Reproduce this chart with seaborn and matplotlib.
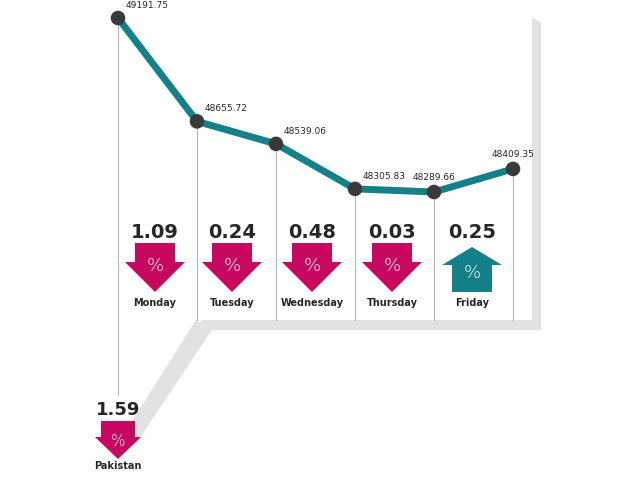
import numpy as np
import pandas as pd
import matplotlib.pyplot as plt
from matplotlib.patches import Polygon, Rectangle
import seaborn as sns

days = ['Monday', 'Tuesday', 'Wednesday', 'Thursday', 'Friday']
index_close = [49191.75, 48655.72, 48539.06, 48305.83, 48289.66, 48409.35]
change_pct = [1.09, 0.24, 0.48, 0.03, 0.25]
direction = ['down', 'down', 'down', 'down', 'up']
pak_change = 1.59

MAGENTA = '#c8075f'
TEAL = '#13808a'
DOT = '#3a3a3c'

sns.set_theme(style='white')
plt.rcParams['font.family'] = ['DejaVu Sans']

fig = plt.figure(figsize=(6.4, 4.8), dpi=100)

# pixel overlay for the panel, shadows and arrows
bg = fig.add_axes([0, 0, 1, 1])
bg.set_xlim(0, 640)
bg.set_ylim(480, 0)
bg.axis('off')

shadow = '#e2e2e2'
bg.add_patch(Polygon([(532, 18), (541, 22), (541, 330), (205, 330), (200, 322)],
                     closed=True, fc=shadow, ec='none', zorder=1))
bg.add_patch(Polygon([(196, 320), (212, 330), (135, 445), (120, 440)],
                     closed=True, fc=shadow, ec='none', zorder=1))
bg.add_patch(Rectangle((195, 14), 337, 306, fc='white', ec='none', zorder=2))

xs_px = [118, 193, 273, 353, 433, 513]
bottoms = [395, 320, 320, 320, 320, 320]

def down_arrow(cx, top, w=40, hw=60, shaft=19, head=30, color=MAGENTA, fs=13):
    pts = [(cx - w / 2, top), (cx + w / 2, top), (cx + w / 2, top + shaft),
           (cx + hw / 2, top + shaft), (cx, top + shaft + head),
           (cx - hw / 2, top + shaft), (cx - w / 2, top + shaft)]
    bg.add_patch(Polygon(pts, closed=True, fc=color, ec='none', zorder=4))
    bg.text(cx, top + shaft + 4, '%', color='white', fontsize=fs, fontweight='light',
            ha='center', va='center', zorder=5)

def up_arrow(cx, top, w=40, hw=60, head=18, shaft=27, color=TEAL, fs=13):
    pts = [(cx, top), (cx + hw / 2, top + head), (cx + w / 2, top + head),
           (cx + w / 2, top + head + shaft), (cx - w / 2, top + head + shaft),
           (cx - w / 2, top + head), (cx - hw / 2, top + head)]
    bg.add_patch(Polygon(pts, closed=True, fc=color, ec='none', zorder=4))
    bg.text(cx, top + head + 8, '%', color='white', fontsize=fs, fontweight='light',
            ha='center', va='center', zorder=5)

centers = [155, 232, 312, 392, 472]
for c, d, v, dr in zip(centers, days, change_pct, direction):
    bg.text(c, 232, f'{v:.2f}', fontsize=14, fontweight='bold', ha='center', va='center', zorder=5)
    if dr == 'down':
        down_arrow(c, 243)
    else:
        up_arrow(c, 247)
    bg.text(c, 303, d, fontsize=7, fontweight='bold', ha='center', va='center', zorder=5)

bg.text(118, 410, f'{pak_change:.2f}', fontsize=13, fontweight='bold', ha='center', va='center', zorder=5)
down_arrow(118, 421, w=34, hw=46, shaft=16, head=22, fs=11)
bg.text(118, 466, 'Pakistan', fontsize=7, fontweight='bold', ha='center', va='center', zorder=5)

# line chart in data units
ax = fig.add_axes([0, 0, 1, 1])
ax.patch.set_alpha(0)
step = (xs_px[-1] - xs_px[0]) / 5
ax.set_xlim(-xs_px[0] / step, (640 - xs_px[0]) / step)
upp = (index_close[0] - index_close[4]) / 174.0
top_val = index_close[0] + 18 * upp
ax.set_ylim(top_val - 480 * upp, top_val)
ax.axis('off')

df = pd.DataFrame({'x': np.arange(len(index_close)), 'close': index_close})
for i, v in enumerate(index_close):
    bottom_val = top_val - bottoms[i] * upp
    ax.plot([i, i], [v, bottom_val], color='#b5b5b5', lw=0.8, zorder=3)
sns.lineplot(data=df, x='x', y='close', ax=ax, color=TEAL, lw=5, zorder=5)
sns.scatterplot(data=df, x='x', y='close', ax=ax, color=DOT, s=110, edgecolor='none', zorder=6)
for i, v in enumerate(index_close):
    if i >= 4:
        ax.text(i, v + 10 * upp, f'{v:.2f}', fontsize=6.5, ha='center', va='bottom', zorder=7)
    else:
        ax.text(i + 0.1, v + 8 * upp, f'{v:.2f}', fontsize=6.5, ha='left', va='bottom', zorder=7)

fig.savefig('out.png', dpi=100)
